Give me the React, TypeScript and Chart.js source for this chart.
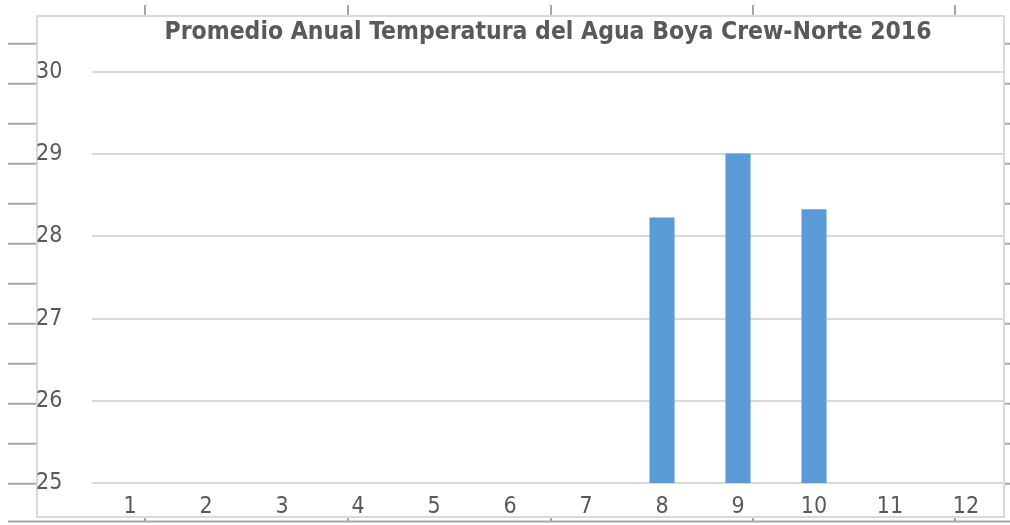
import React, { useEffect, useRef } from "react";
import { Chart, registerables } from "chart.js";

Chart.register(...registerables);

const categories: string[] = ["1", "2", "3", "4", "5", "6", "7", "8", "9", "10", "11", "12"];
const temperatures: (number | null)[] = [null, null, null, null, null, null, null, 28.23, 29.01, 28.33, null, null];
const yTicks: number[] = [25, 26, 27, 28, 29, 30];
const titleText = "Promedio Anual Temperatura del Agua Boya Crew-Norte 2016";

const FONT = "'DejaVu Sans Condensed', 'DejaVu Sans', sans-serif";

const framePlugin = {
  id: "frame",
  beforeDraw(chart: any) {
    const ctx = chart.ctx;
    ctx.save();
    ctx.fillStyle = "#ffffff";
    ctx.fillRect(0, 0, chart.width, chart.height);
    ctx.strokeStyle = "#a6a6a6";
    ctx.lineWidth = 2;
    for (let k = 0; k < 12; k++) {
      const y = 43.7 + 40 * k;
      ctx.beginPath();
      ctx.moveTo(8, y);
      ctx.lineTo(36, y);
      ctx.moveTo(1005, y);
      ctx.lineTo(1010, y);
      ctx.stroke();
    }
    const cols = [145, 348, 551, 753, 955];
    for (const x of cols) {
      ctx.beginPath();
      ctx.moveTo(x, 5);
      ctx.lineTo(x, 15);
      ctx.moveTo(x, 517);
      ctx.lineTo(x, 522);
      ctx.stroke();
    }
    ctx.beginPath();
    ctx.moveTo(8, 521.5);
    ctx.lineTo(1010, 521.5);
    ctx.stroke();
    ctx.strokeStyle = "#d9d9d9";
    ctx.lineWidth = 2;
    ctx.strokeRect(37, 16, 967, 501);
    ctx.restore();
  },
};

export default function App() {
  const ref = useRef<HTMLCanvasElement | null>(null);
  useEffect(() => {
    if (!ref.current) return;
    const chart = new Chart(ref.current, {
      type: "bar",
      data: {
        labels: categories,
        datasets: [
          {
            data: temperatures,
            backgroundColor: "#5b9bd5",
            borderWidth: 0,
            barPercentage: 0.33,
            categoryPercentage: 1,
          },
        ],
      },
      options: {
        animation: false,
        responsive: false,
        maintainAspectRatio: false,
        layout: { padding: { left: 36, right: 6, top: 15, bottom: 8 } },
        plugins: {
          legend: { display: false },
          tooltip: { enabled: false },
          title: {
            display: true,
            text: titleText,
            fullSize: false,
            color: "#595959",
            font: { family: FONT, size: 24.5, weight: "bold", lineHeight: 1.2 },
            padding: { top: 3, bottom: 24.6 },
          },
        },
        scales: {
          x: {
            grid: { display: false, drawTicks: false },
            border: { display: false },
            afterFit: (axis: any) => {
              axis.height = 34;
            },
            ticks: {
              color: "#595959",
              font: { family: FONT, size: 23 },
              padding: 10,
              maxRotation: 0,
            },
          },
          y: {
            min: 25,
            max: 30,
            afterBuildTicks: (axis: any) => {
              axis.ticks = yTicks.map((v) => ({ value: v }));
            },
            afterFit: (axis: any) => {
              axis.width = 56;
            },
            grid: { color: "#d9d9d9", lineWidth: 2, drawTicks: false },
            border: { display: false },
            ticks: {
              color: "#595959",
              font: { family: FONT, size: 23 },
              crossAlign: "far",
              padding: 0,
            },
          },
        },
      },
      plugins: [framePlugin],
    });
    return () => chart.destroy();
  }, []);
  return (
    <div style={{ position: "fixed", left: 0, top: 0, width: 1010, height: 525 }}>
      <canvas ref={ref} width={1010} height={525} style={{ width: 1010, height: 525 }} />
    </div>
  );
}
